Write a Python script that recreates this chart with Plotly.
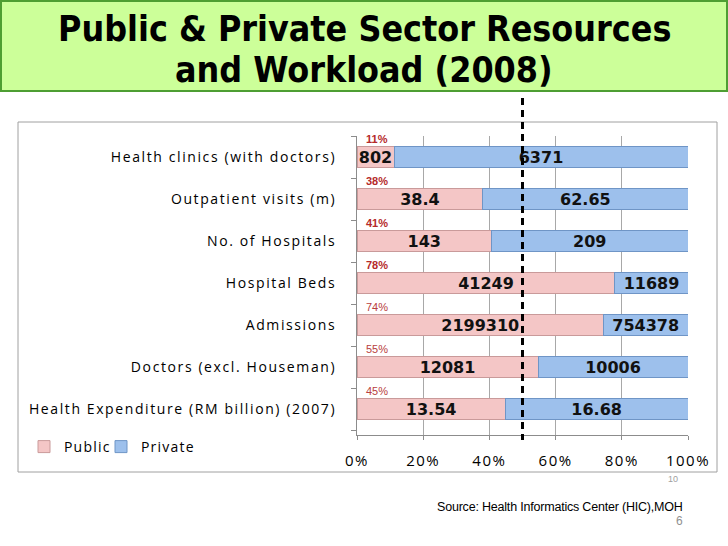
import plotly.graph_objects as go

categories = [
    "Health clinics (with doctors)",
    "Outpatient visits (m)",
    "No. of Hospitals",
    "Hospital Beds",
    "Admissions",
    "Doctors (excl. Houseman)",
    "Health Expenditure (RM billion) (2007)",
]
public_vals = [802, 38.4, 143, 41249, 2199310, 12081, 13.54]
private_vals = [6371, 62.65, 209, 11689, 754378, 10006, 16.68]
public_text = ["802", "38.4", "143", "41249", "2199310", "12081", "13.54"]
private_text = ["6371", "62.65", "209", "11689", "754378", "10006", "16.68"]
pct_bold = [True, True, True, True, False, False, False]
x_ticks = [0, 0.2, 0.4, 0.6, 0.8, 1.0]
x_tick_labels = ["0%", "20%", "40%", "60%", "80%", "100%"]

W, H = 728, 546
L, R, T, B = 357, 40, 136, 111
PW, PH = W - L - R, H - T - B


def px(x):
    return (x - L) / PW


def py(y):
    return (H - B - y) / PH


def spaced(s, ls):
    return f'<span style="letter-spacing:{ls}px">{s}</span>'


fig = go.Figure()
fig.add_trace(go.Bar(
    y=categories, x=public_vals, orientation="h", name=spaced("Public", 1.2),
    text=public_text, textposition="inside", insidetextanchor="middle",
    textangle=0, constraintext="none", legend="legend",
    textfont=dict(family="DejaVu Sans", size=16, color="#111111", weight="bold"),
    marker=dict(color="#F4C6C6", line=dict(color="#C99A9A", width=1)),
))
fig.add_trace(go.Bar(
    y=categories, x=private_vals, orientation="h", name=spaced("Private", 1.2),
    text=private_text, textposition="inside", insidetextanchor="middle",
    textangle=0, constraintext="none", legend="legend2",
    textfont=dict(family="DejaVu Sans", size=16, color="#111111", weight="bold"),
    marker=dict(color="#9DC0EC", line=dict(color="#6F95C6", width=1)),
))

annotations = []
for cat, pv, qv, b in zip(categories, public_vals, private_vals, pct_bold):
    pct = round(pv / (pv + qv) * 100)
    annotations.append(dict(
        x=0, y=cat, xref="x", yref="y", text=f"{pct}%", showarrow=False,
        xanchor="left", yanchor="middle", xshift=7, yshift=18,
        font=dict(family="Liberation Sans", size=11,
                  color="#B52A2A" if b else "#B84040",
                  weight="bold" if b else "normal"),
    ))

title_font = dict(family="DejaVu Sans Condensed", size=35.5, color="#000000")
annotations.append(dict(
    x=px(364), y=py(28), xref="paper", yref="paper", showarrow=False,
    text="<b>Public & Private Sector Resources</b>", xanchor="center", yanchor="middle",
    font=title_font,
))
annotations.append(dict(
    x=px(364), y=py(70), xref="paper", yref="paper", showarrow=False,
    text="<b>and Workload (2008)</b>", xanchor="center", yanchor="middle",
    font=title_font,
))
annotations.append(dict(
    x=px(680), y=py(479), xref="paper", yref="paper", showarrow=False,
    text="10", xanchor="right", yanchor="middle",
    font=dict(family="Liberation Sans", size=9, color="#A0A0A0"),
))
annotations.append(dict(
    x=px(685), y=py(507), xref="paper", yref="paper", showarrow=False,
    text=spaced("Source: Health Informatics Center (HIC),MOH", -0.2),
    xanchor="right", yanchor="middle",
    font=dict(family="Liberation Sans", size=12.5, color="#000000"),
))
annotations.append(dict(
    x=px(685), y=py(521), xref="paper", yref="paper", showarrow=False,
    text="6", xanchor="right", yanchor="middle",
    font=dict(family="Liberation Sans", size=12, color="#909090"),
))

shapes = [
    dict(type="rect", xref="paper", yref="paper", x0=px(1), x1=px(727), y0=py(1), y1=py(91),
         fillcolor="#CCFF99", line=dict(color="#4E9E32", width=2), layer="below"),
    dict(type="rect", xref="paper", yref="paper", x0=px(18), x1=px(717), y0=py(122), y1=py(472),
         fillcolor="rgba(0,0,0,0)", line=dict(color="#A0A0A0", width=1), layer="below"),
    dict(type="line", xref="x", yref="paper", x0=0.5, x1=0.5, y0=py(98), y1=py(440),
         line=dict(color="#000000", width=3, dash="7px,5px"), layer="above"),
]

legend_common = dict(orientation="h", yanchor="middle", xanchor="left",
                     font=dict(family="Open Sans", size=14, color="#000000"),
                     bgcolor="rgba(0,0,0,0)")

fig.update_layout(
    width=W, height=H,
    margin=dict(l=L, r=R, t=T, b=B),
    paper_bgcolor="white", plot_bgcolor="white",
    barmode="stack", barnorm="fraction", bargap=0.51,
    showlegend=True,
    legend=dict(x=px(24), y=py(447), **legend_common),
    legend2=dict(x=px(101), y=py(447), **legend_common),
    annotations=annotations,
    shapes=shapes,
    font=dict(family="Open Sans", color="#000000"),
)
fig.update_xaxes(
    range=[0, 1], tickmode="array", tickvals=x_ticks,
    ticktext=[spaced(t, 1.5) for t in x_tick_labels],
    showgrid=True, gridcolor="#A8A8A8", gridwidth=1,
    showline=True, linecolor="#8C8C8C", linewidth=1,
    ticks="outside", ticklen=4, tickcolor="#8C8C8C",
    ticklabelstandoff=8, zeroline=False,
    tickfont=dict(family="Open Sans", size=15, color="#000000"),
)
fig.update_yaxes(
    categoryorder="array", categoryarray=categories, autorange="reversed",
    tickmode="array", tickvals=categories, ticktext=[spaced(c, 1.6) for c in categories],
    showgrid=False, showline=True, linecolor="#8C8C8C", linewidth=1,
    ticks="outside", ticklen=5, tickcolor="#8C8C8C", tickson="boundaries",
    ticklabelstandoff=17,
    tickfont=dict(family="Open Sans", size=14, color="#000000"),
)

fig.write_html("out.html", post_script="document.body.style.margin='0';",
               config={"displayModeBar": False})
